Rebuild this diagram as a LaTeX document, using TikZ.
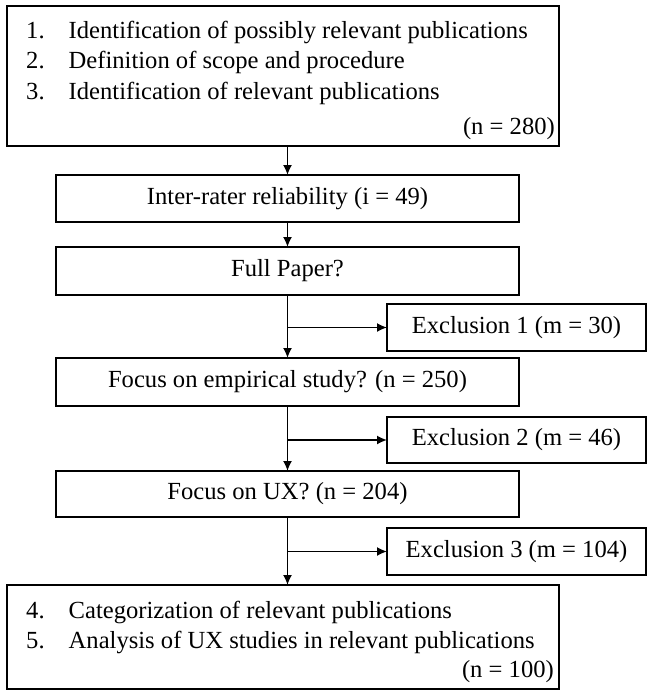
\documentclass[tikz,border=0pt]{standalone}
\usepackage{fontspec}
\setmainfont{Liberation Serif}
\usetikzlibrary{arrows.meta}
\begin{document}
\begin{tikzpicture}[x=1pt,y=-1pt,
  box/.style={draw=black,line width=1.9pt,inner sep=0pt,outer sep=0pt},
  mainbox/.style={box,minimum width=463pt},
  exbox/.style={box,minimum width=259pt},
  txt/.style={inner sep=0pt,font=\fontsize{24.6}{31}\selectfont},
  arr/.style={line width=1.7pt,-{Latex[length=10pt,width=9pt]}}]
\useasboundingbox (0,0) rectangle (647,690);
% top box
\node[box,minimum width=552pt,minimum height=140pt] (top) at (283,76) {};
\node[txt,anchor=base west] (n1) at (26,38.5) {1.};
\node[txt,anchor=base west] (t1) at (68.5,38.5) {Identification of possibly relevant publications};
\node[txt,anchor=base west] (n2) at (26,69) {2.};
\node[txt,anchor=base west] (t2) at (68.5,69) {Definition of scope and procedure};
\node[txt,anchor=base west] (n3) at (26,99.5) {3.};
\node[txt,anchor=base west] (t3) at (68.5,99.5) {Identification of relevant publications};
\node[txt,anchor=base east] (c1) at (555,134.5) {(n = 280)};
% main boxes
\node[mainbox,minimum height=47pt] (irr) at (287.5,198.5) {};
\node[txt] (irrt) at (irr) {Inter-rater reliability (i = 49)};
\node[mainbox,minimum height=48pt] (fp) at (287.5,271) {};
\node[txt] (fpt) at (fp) {Full Paper?};
\node[exbox,minimum height=47pt] (ex1) at (516.5,327.5) {};
\node[txt] (ex1t) at (ex1) {Exclusion 1 (m = 30)};
\node[mainbox,minimum height=48pt] (fe) at (287.5,382) {};
\node[txt] (fet) at (fe) {Focus on empirical study? (n = 250)};
\node[exbox,minimum height=46pt] (ex2) at (516.5,440) {};
\node[txt] (ex2t) at (ex2) {Exclusion 2 (m = 46)};
\node[mainbox,minimum height=46pt] (fu) at (287.5,494) {};
\node[txt] (fut) at (fu) {Focus on UX? (n = 204)};
\node[exbox,minimum height=47pt] (ex3) at (516.5,551.5) {};
\node[txt] (ex3t) at (ex3) {Exclusion 3 (m = 104)};
% bottom box
\node[box,minimum width=552pt,minimum height=104pt] (bot) at (283,637) {};
\node[txt,anchor=base west] (n4) at (26,618) {4.};
\node[txt,anchor=base west] (t4) at (68.5,618) {Categorization of relevant publications};
\node[txt,anchor=base west] (n5) at (26,648.5) {5.};
\node[txt,anchor=base west] (t5) at (68.5,648.5) {Analysis of UX studies in relevant publications};
\node[txt,anchor=base east] (c2) at (554,677) {(n = 100)};
% connectors
\draw[arr] (top.south -| irr.north) -- (irr.north);
\draw[arr] (irr.south) -- (fp.north);
\draw[arr] (fp.south) -- (fe.north);
\draw[arr] (fp.south |- ex1.west) -- (ex1.west);
\draw[arr] (fe.south) -- (fu.north);
\draw[arr] (fe.south |- ex2.west) -- (ex2.west);
\draw[arr] (fu.south) -- (bot.north -| fu.south);
\draw[arr] (fu.south |- ex3.west) -- (ex3.west);
\end{tikzpicture}
\end{document}
